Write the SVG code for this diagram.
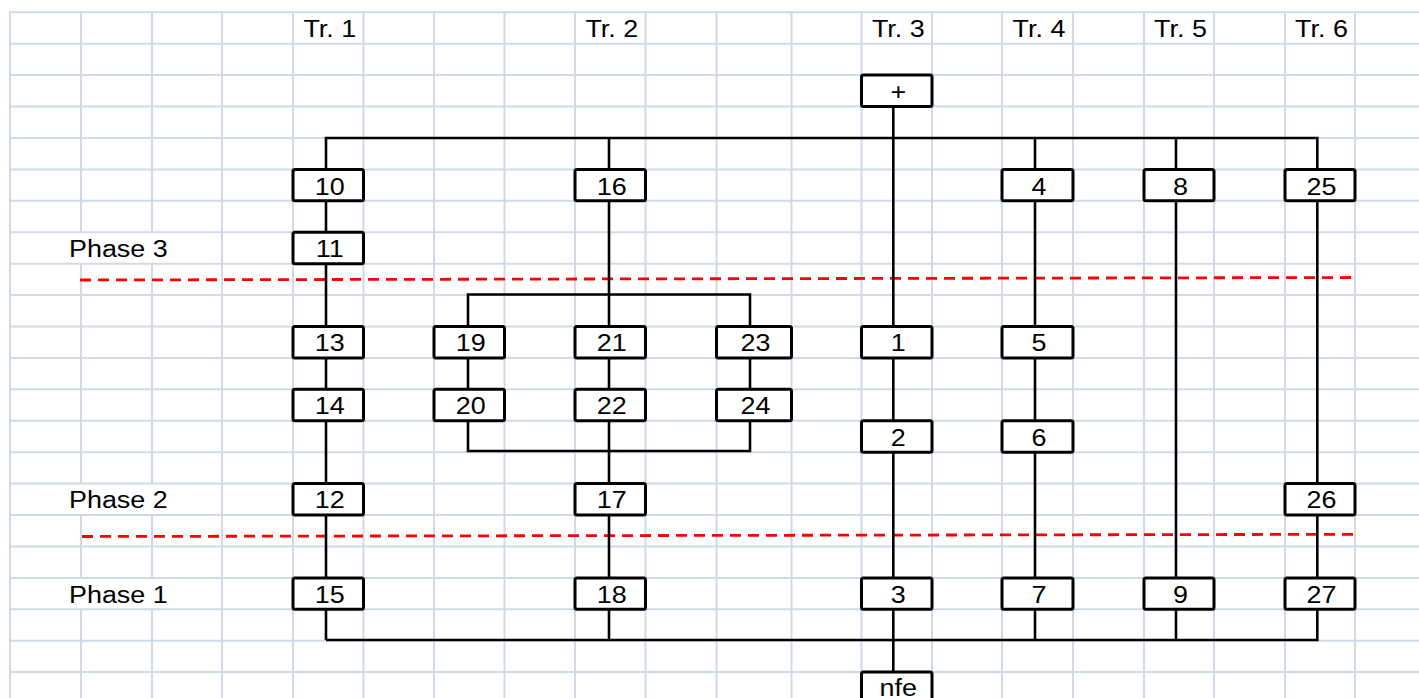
<svg xmlns="http://www.w3.org/2000/svg" width="1419" height="698" viewBox="0 0 1419 698">
  <style>
    .g { stroke: #d2d9e6; stroke-width: 2; fill: none; }
    .c { stroke: #000; stroke-width: 2.6; fill: none; }
    .ph { stroke: #ff0000; stroke-width: 2.8; stroke-dasharray: 11 7; fill: none; }
    .b { fill: #fff; stroke: #000; stroke-width: 3; }
    text { font-family: "Liberation Sans", Arial, sans-serif; font-size: 23px; fill: #000; }
    .t { text-anchor: middle; }
  </style>
  <rect x="0" y="0" width="1419" height="698" fill="#fff"/>
  <g id="grid">
    <path class="g" d="M9 12.3H1419 M9 43.7H1419 M9 75.1H1419 M9 106.6H1419 M9 138H1419 M9 169.4H1419 M9 200.8H1419 M9 232.2H1419 M9 263.7H1419 M9 295.1H1419 M9 326.5H1419 M9 357.9H1419 M9 389.3H1419 M9 420.8H1419 M9 452.2H1419 M9 483.6H1419 M9 515H1419 M9 546.4H1419 M9 577.9H1419 M9 609.3H1419 M9 640.7H1419 M9 672.1H1419"/>
    <path class="g" d="M10 11.3V698 M222 11.3V698 M293 11.3V698 M363.5 11.3V698 M434 11.3V698 M504.5 11.3V698 M575 11.3V698 M645.5 11.3V698 M716.5 11.3V698 M791.5 11.3V698 M861.5 11.3V698 M932 11.3V698 M1002 11.3V698 M1073 11.3V698 M1144 11.3V698 M1214 11.3V698 M1285 11.3V698 M1355 11.3V698"/>
    <path class="g" d="M81 11.3V232.2 M81 263.7V483.6 M81 515V577.9 M81 609.3V698 M152 11.3V232.2 M152 263.7V483.6 M152 515V577.9 M152 609.3V698"/>
  </g>
  <g id="phase-lines">
    <line class="ph" x1="80" y1="280" x2="1353" y2="277.5"/>
    <line class="ph" x1="82" y1="536.5" x2="1355" y2="534.3"/>
  </g>
  <g id="connectors">
    <path class="c" d="M326 640 V138 H1317.3 V640 H326"/>
    <line class="c" x1="609" y1="138" x2="609" y2="640"/>
    <line class="c" x1="893.3" y1="106.6" x2="893.3" y2="672.1"/>
    <line class="c" x1="1035" y1="138" x2="1035" y2="640"/>
    <line class="c" x1="1176" y1="138" x2="1176" y2="640"/>
    <path class="c" d="M468 326.5 V294.5 H750 V326.5"/>
    <path class="c" d="M468 420.8 V451 H750 V420.8"/>
    <line class="c" x1="468" y1="357.9" x2="468" y2="389.3"/>
    <line class="c" x1="750" y1="357.9" x2="750" y2="389.3"/>
  </g>
  <g id="labels">
    <text transform="translate(329.8 37.3) scale(1.17 1)" class="t">Tr. 1</text>
    <text transform="translate(611.8 37.3) scale(1.17 1)" class="t">Tr. 2</text>
    <text transform="translate(898.3 37.3) scale(1.17 1)" class="t">Tr. 3</text>
    <text transform="translate(1039 37.3) scale(1.17 1)" class="t">Tr. 4</text>
    <text transform="translate(1180.5 37.3) scale(1.17 1)" class="t">Tr. 5</text>
    <text transform="translate(1321.5 37.3) scale(1.17 1)" class="t">Tr. 6</text>
    <text transform="translate(69 257) scale(1.17 1)">Phase 3</text>
    <text transform="translate(69 508) scale(1.17 1)">Phase 2</text>
    <text transform="translate(69 602.5) scale(1.17 1)">Phase 1</text>
  </g>
  <g id="n-plus"><rect class="b" x="861.5" y="75.1" width="70.5" height="31.5" rx="2"/><text class="t" transform="translate(898.3 99.5) scale(1.17 1)">+</text></g>
  <g id="n10"><rect class="b" x="293" y="169.4" width="70.5" height="31.4" rx="2"/><text class="t" transform="translate(329.8 194.6) scale(1.17 1)">10</text></g>
  <g id="n11"><rect class="b" x="293" y="232.2" width="70.5" height="31.5" rx="2"/><text class="t" transform="translate(329.8 257.2) scale(1.17 1)">11</text></g>
  <g id="n13"><rect class="b" x="293" y="326.5" width="70.5" height="31.4" rx="2"/><text class="t" transform="translate(329.8 351.3) scale(1.17 1)">13</text></g>
  <g id="n14"><rect class="b" x="293" y="389.3" width="70.5" height="31.5" rx="2"/><text class="t" transform="translate(329.8 414.1) scale(1.17 1)">14</text></g>
  <g id="n12"><rect class="b" x="293" y="483.6" width="70.5" height="31.4" rx="2"/><text class="t" transform="translate(329.8 508) scale(1.17 1)">12</text></g>
  <g id="n15"><rect class="b" x="293" y="577.9" width="70.5" height="31.4" rx="2"/><text class="t" transform="translate(329.8 602.5) scale(1.17 1)">15</text></g>
  <g id="n16"><rect class="b" x="575" y="169.4" width="70.5" height="31.4" rx="2"/><text class="t" transform="translate(611.8 194.6) scale(1.17 1)">16</text></g>
  <g id="n21"><rect class="b" x="575" y="326.5" width="70.5" height="31.4" rx="2"/><text class="t" transform="translate(611.8 351.3) scale(1.17 1)">21</text></g>
  <g id="n22"><rect class="b" x="575" y="389.3" width="70.5" height="31.5" rx="2"/><text class="t" transform="translate(611.8 414.1) scale(1.17 1)">22</text></g>
  <g id="n17"><rect class="b" x="575" y="483.6" width="70.5" height="31.4" rx="2"/><text class="t" transform="translate(611.8 508) scale(1.17 1)">17</text></g>
  <g id="n18"><rect class="b" x="575" y="577.9" width="70.5" height="31.4" rx="2"/><text class="t" transform="translate(611.8 602.5) scale(1.17 1)">18</text></g>
  <g id="n19"><rect class="b" x="434" y="326.5" width="70.5" height="31.4" rx="2"/><text class="t" transform="translate(470.8 351.3) scale(1.17 1)">19</text></g>
  <g id="n20"><rect class="b" x="434" y="389.3" width="70.5" height="31.5" rx="2"/><text class="t" transform="translate(470.8 414.1) scale(1.17 1)">20</text></g>
  <g id="n23"><rect class="b" x="716.5" y="326.5" width="75" height="31.4" rx="2"/><text class="t" transform="translate(755.5 351.3) scale(1.17 1)">23</text></g>
  <g id="n24"><rect class="b" x="716.5" y="389.3" width="75" height="31.5" rx="2"/><text class="t" transform="translate(755.5 414.1) scale(1.17 1)">24</text></g>
  <g id="n1"><rect class="b" x="861.5" y="326.5" width="70.5" height="31.4" rx="2"/><text class="t" transform="translate(898.3 351.3) scale(1.17 1)">1</text></g>
  <g id="n2"><rect class="b" x="861.5" y="420.8" width="70.5" height="31.4" rx="2"/><text class="t" transform="translate(898.3 445.5) scale(1.17 1)">2</text></g>
  <g id="n3"><rect class="b" x="861.5" y="577.9" width="70.5" height="31.4" rx="2"/><text class="t" transform="translate(898.3 602.5) scale(1.17 1)">3</text></g>
  <g id="n-nfe"><rect class="b" x="861.5" y="672.1" width="70.5" height="31.4" rx="2"/><text class="t" transform="translate(898.3 696) scale(1.17 1)">nfe</text></g>
  <g id="n4"><rect class="b" x="1002" y="169.4" width="71" height="31.4" rx="2"/><text class="t" transform="translate(1039 194.6) scale(1.17 1)">4</text></g>
  <g id="n5"><rect class="b" x="1002" y="326.5" width="71" height="31.4" rx="2"/><text class="t" transform="translate(1039 351.3) scale(1.17 1)">5</text></g>
  <g id="n6"><rect class="b" x="1002" y="420.8" width="71" height="31.4" rx="2"/><text class="t" transform="translate(1039 445.5) scale(1.17 1)">6</text></g>
  <g id="n7"><rect class="b" x="1002" y="577.9" width="71" height="31.4" rx="2"/><text class="t" transform="translate(1039 602.5) scale(1.17 1)">7</text></g>
  <g id="n8"><rect class="b" x="1144" y="169.4" width="70" height="31.4" rx="2"/><text class="t" transform="translate(1180.5 194.6) scale(1.17 1)">8</text></g>
  <g id="n9"><rect class="b" x="1144" y="577.9" width="70" height="31.4" rx="2"/><text class="t" transform="translate(1180.5 602.5) scale(1.17 1)">9</text></g>
  <g id="n25"><rect class="b" x="1285" y="169.4" width="70" height="31.4" rx="2"/><text class="t" transform="translate(1321.5 194.6) scale(1.17 1)">25</text></g>
  <g id="n26"><rect class="b" x="1285" y="483.6" width="70" height="31.4" rx="2"/><text class="t" transform="translate(1321.5 508) scale(1.17 1)">26</text></g>
  <g id="n27"><rect class="b" x="1285" y="577.9" width="70" height="31.4" rx="2"/><text class="t" transform="translate(1321.5 602.5) scale(1.17 1)">27</text></g>
</svg>
